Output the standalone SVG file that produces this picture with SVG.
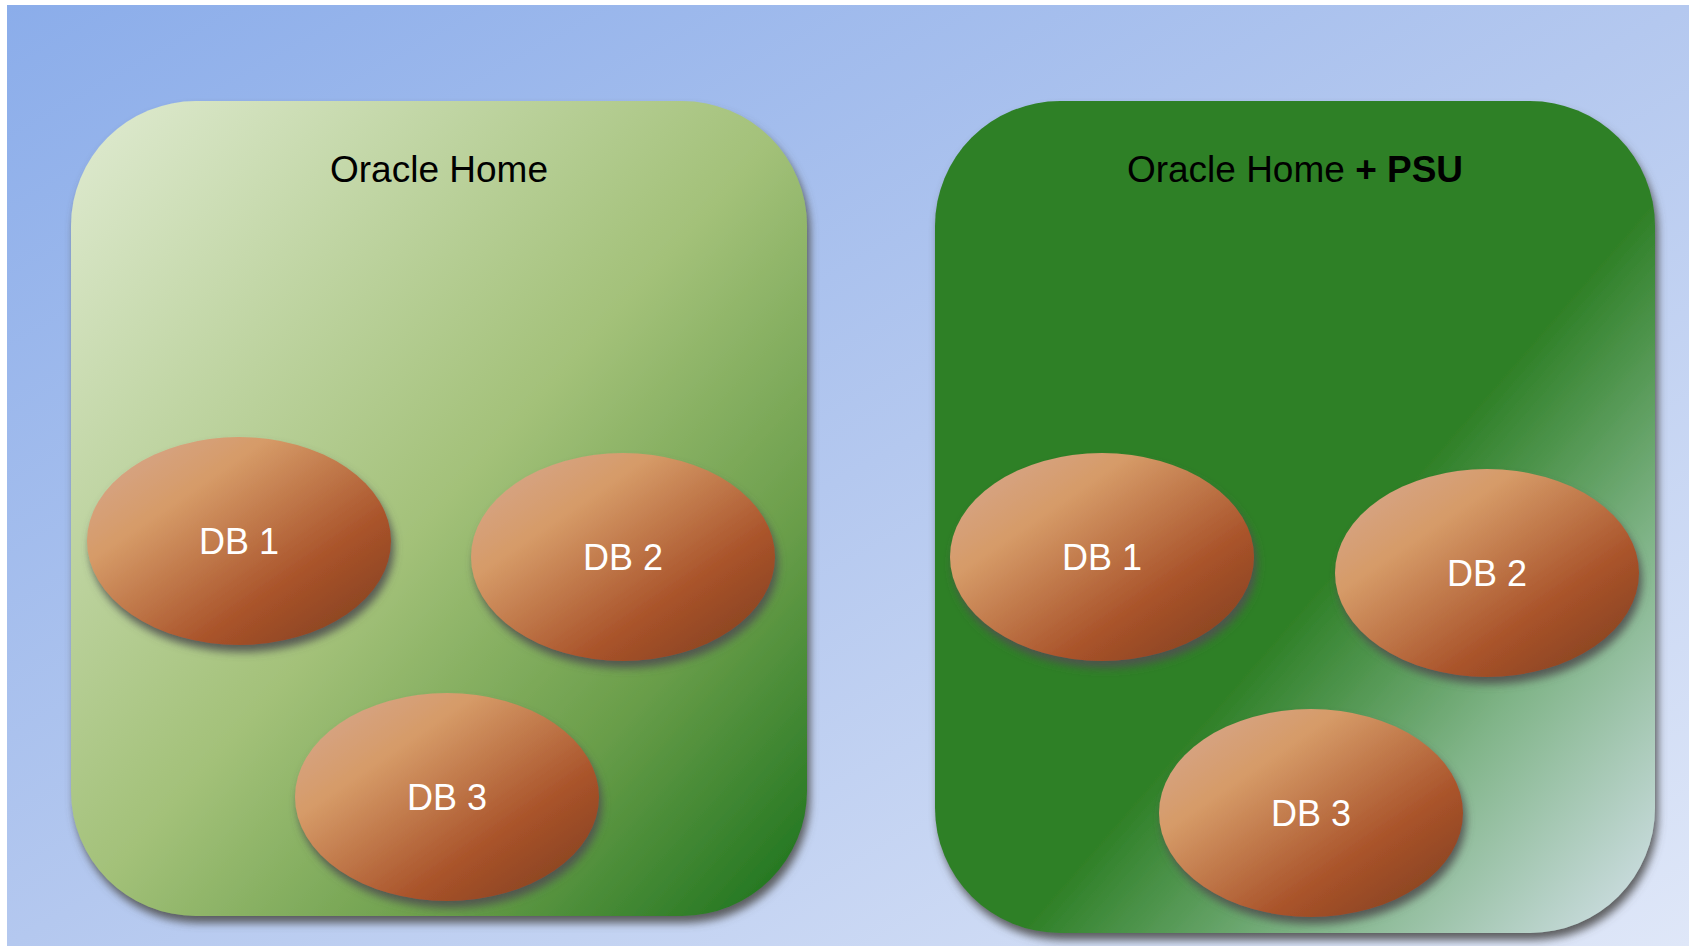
<svg xmlns="http://www.w3.org/2000/svg" width="1689" height="946" viewBox="0 0 1689 946">
  <defs>
    <linearGradient id="bg" x1="0" y1="0" x2="1" y2="1">
      <stop offset="0" stop-color="#8badea"/>
      <stop offset="0.5" stop-color="#b4c8ef"/>
      <stop offset="1" stop-color="#dfe7f8"/>
    </linearGradient>
    <linearGradient id="gLeft" x1="0" y1="0" x2="1" y2="1">
      <stop offset="0" stop-color="#e0ebd2"/>
      <stop offset="0.5" stop-color="#a3c179"/>
      <stop offset="0.75" stop-color="#6a9e4a"/>
      <stop offset="1" stop-color="#17701a"/>
    </linearGradient>
    <linearGradient id="gRight" x1="0" y1="0" x2="1" y2="1">
      <stop offset="0" stop-color="#2f8027"/>
      <stop offset="0.56" stop-color="#2f8027"/>
      <stop offset="0.76" stop-color="#80b488"/>
      <stop offset="1" stop-color="#d6e2ec"/>
    </linearGradient>
    <linearGradient id="gDb" x1="0" y1="0" x2="1" y2="1">
      <stop offset="0" stop-color="#d6a995"/>
      <stop offset="0.3" stop-color="#d69b68"/>
      <stop offset="0.68" stop-color="#a9532a"/>
      <stop offset="1" stop-color="#7a3d1e"/>
    </linearGradient>
    <filter id="shadow" x="-10%" y="-10%" width="125%" height="125%">
      <feGaussianBlur in="SourceAlpha" stdDeviation="4"/>
      <feOffset dx="3" dy="7" result="b"/>
      <feFlood flood-color="#505050" flood-opacity="0.9"/>
      <feComposite in2="b" operator="in"/>
      <feMerge>
        <feMergeNode/>
        <feMergeNode in="SourceGraphic"/>
      </feMerge>
    </filter>
  </defs>
  <style>
    .title { font-family: "Liberation Sans", Arial, sans-serif; font-size: 37px; fill: #000; text-anchor: middle; }
    .db { fill: url(#gDb); filter: url(#shadow); }
    .dbt { font-family: "Liberation Sans", Arial, sans-serif; font-size: 36px; fill: #fff; text-anchor: middle; }
  </style>
  <rect x="0" y="0" width="1689" height="946" fill="#ffffff"/>
  <rect x="7" y="5" width="1682" height="941" fill="url(#bg)"/>

  <g id="home-left">
    <rect x="71" y="101" width="736" height="815" rx="125" ry="125" fill="url(#gLeft)" filter="url(#shadow)"/>
    <text class="title" x="439" y="182">Oracle Home</text>
  </g>
  <g id="home-right">
    <rect x="935" y="101" width="720" height="832" rx="125" ry="125" fill="url(#gRight)" filter="url(#shadow)"/>
    <text class="title" x="1295" y="182">Oracle Home <tspan font-weight="bold">+ PSU</tspan></text>
  </g>

  <g id="left-db1">
    <ellipse class="db" cx="239" cy="541" rx="152" ry="104"/>
    <text class="dbt" x="239" y="554">DB 1</text>
  </g>
  <g id="left-db2">
    <ellipse class="db" cx="623" cy="557" rx="152" ry="104"/>
    <text class="dbt" x="623" y="570">DB 2</text>
  </g>
  <g id="left-db3">
    <ellipse class="db" cx="447" cy="797" rx="152" ry="104"/>
    <text class="dbt" x="447" y="810">DB 3</text>
  </g>
  <g id="right-db1">
    <ellipse class="db" cx="1102" cy="557" rx="152" ry="104"/>
    <text class="dbt" x="1102" y="570">DB 1</text>
  </g>
  <g id="right-db2">
    <ellipse class="db" cx="1487" cy="573" rx="152" ry="104"/>
    <text class="dbt" x="1487" y="586">DB 2</text>
  </g>
  <g id="right-db3">
    <ellipse class="db" cx="1311" cy="813" rx="152" ry="104"/>
    <text class="dbt" x="1311" y="826">DB 3</text>
  </g>
  <g id="connectors"/>
</svg>
